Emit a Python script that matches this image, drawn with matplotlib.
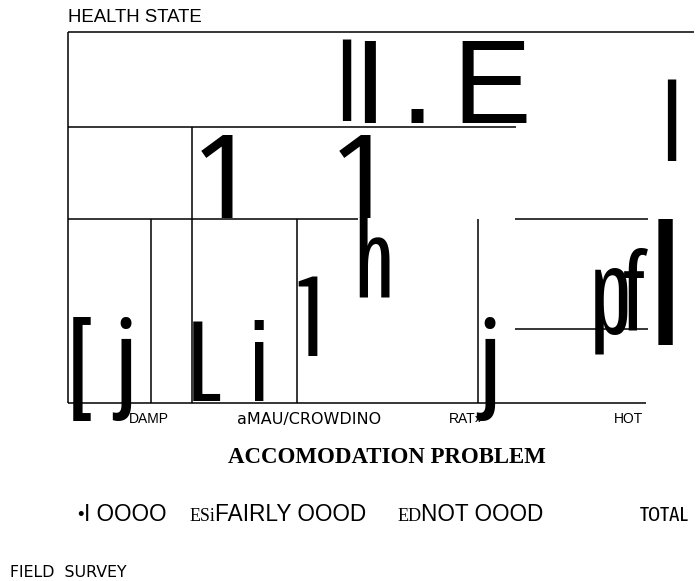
import matplotlib
matplotlib.use("Agg")
import numpy as np
import matplotlib.pyplot as plt
from matplotlib.font_manager import FontProperties
from matplotlib.textpath import TextPath

# 住房问题（列）× 健康状况（行）的马赛克图，单位：占全部住户的百分比
col_names = ["DAMP", "aMAU/CROWDINO", "RAT»", "HOT"]
col_centres = [14.0, 41.5, 68.6, 96.6]

# 横向格线：高度、起点、终点
h_level = [100.0, 74.5, 49.6, 49.6, 19.9, 0.0]
h_start = [0.0, 0.0, 0.0, 77.0, 77.0, 0.0]
h_end = [108.0, 77.2, 50.0, 100.0, 100.0, 99.7]

# 纵向格线：位置、顶端
v_pos = [0.0, 14.3, 21.3, 39.5, 70.7]
v_top = [100.0, 49.6, 74.5, 49.6, 49.6]

W, H, DPI = 696, 581, 100
fig = plt.figure(figsize=(W / DPI, H / DPI), dpi=DPI)
ax = fig.add_axes([68 / W, 178 / H, 580 / W, 371 / H])
ax.set_xlim(0, 100)
ax.set_ylim(0, 100)

ax.hlines(h_level, h_start, h_end, color="black", lw=1.1, clip_on=False)
ax.vlines(v_pos, 0, v_top, color="black", lw=1.1, clip_on=False)

for sp in ax.spines.values():
    sp.set_visible(False)
ax.set_yticks([])
ax.set_xticks(col_centres, col_names, fontsize=10, family="Liberation Sans")
ax.tick_params(axis="x", length=0, pad=6.5)
ax.get_xticklabels()[1].set_family("DejaVu Sans")
ax.get_xticklabels()[1].set_fontsize(11.5)

SANS = ["Liberation Sans", "Roboto Condensed", "Fira Sans Extra Condensed",
        "Pathway Gothic One"]


def put(s, box, fonts=SANS, weight="normal", by="h"):
    # 按像素框（左、上、右、下）放置文字，字体取最接近框宽高比的一种
    x0, y0, x1, y1 = box
    best = None
    for fam in fonts:
        fp = FontProperties(family=fam, weight=weight)
        ext = TextPath((0, 0), s, size=100, prop=fp).get_extents()
        k = (y1 - y0) / ext.height if by == "h" else (x1 - x0) / ext.width
        err = abs(np.log(ext.width * k / max(x1 - x0, 1))) + abs(np.log(ext.height * k / (y1 - y0)))
        if best is None or err < best[0]:
            best = (err, fp, ext, k)
    _, fp, ext, k = best
    fp.set_size(100 * k * 72 / DPI)
    x = x0 - ext.x0 * k
    base = y1 + ext.y0 * k
    fig.text(x / W, 1 - base / H, s, fontproperties=fp, ha="left", va="baseline")


# 扫描件上被识别成字符的色块
put("l", (342, 40, 348, 121))
put("I", (364, 42, 376, 123))
put(".", (411, 111, 423, 123), fonts=["Liberation Sans"], by="w")
put("E", (462, 42, 524, 123))
put("l", (667, 80, 672, 161))
put("1", (201, 135, 233, 218))
put("1", (339, 135, 371, 218))
put("h", (359, 219, 380, 298))
put("1", (298, 277, 312, 356))
put("[", (73, 317, 82, 421))
put("j", (112, 317, 121, 421))
put("L", (193, 321, 214, 401))
put("i", (254, 320, 259, 401))
put("j", (476, 317, 485, 421))
put("p", (595, 268, 610, 353))
put("f", (624, 249, 638, 331))
put("I", (658, 219, 669, 345))

# 标题与图例
put("HEALTH STATE", (70, 8, 202, 22), fonts=["Liberation Sans"], by="w")
put("ACCOMODATION PROBLEM", (228, 447, 545, 463), fonts=["Liberation Serif"],
    weight="bold", by="w")
put("•", (78, 511, 83, 516), fonts=["Liberation Sans"], by="w")
put("I OOOO", (86, 505, 156, 521), fonts=["Liberation Sans"])
put("ESi", (190, 509, 215, 521), fonts=["Liberation Serif"])
put("FAIRLY OOOD", (217, 505, 362, 521), fonts=["Liberation Sans"])
put("ED", (398, 509, 420, 521), fonts=["Liberation Serif"])
put("NOT OOOD", (423, 505, 536, 521), fonts=["Liberation Sans"])
put("TOTAL", (640, 506, 682, 521),
    fonts=["Liberation Sans", "Roboto Condensed", "Fira Sans Extra Condensed"])
put("FIELD  SURVEY", (12, 565, 132, 577), fonts=["DejaVu Sans"])

fig.savefig("out.png", dpi=DPI)
